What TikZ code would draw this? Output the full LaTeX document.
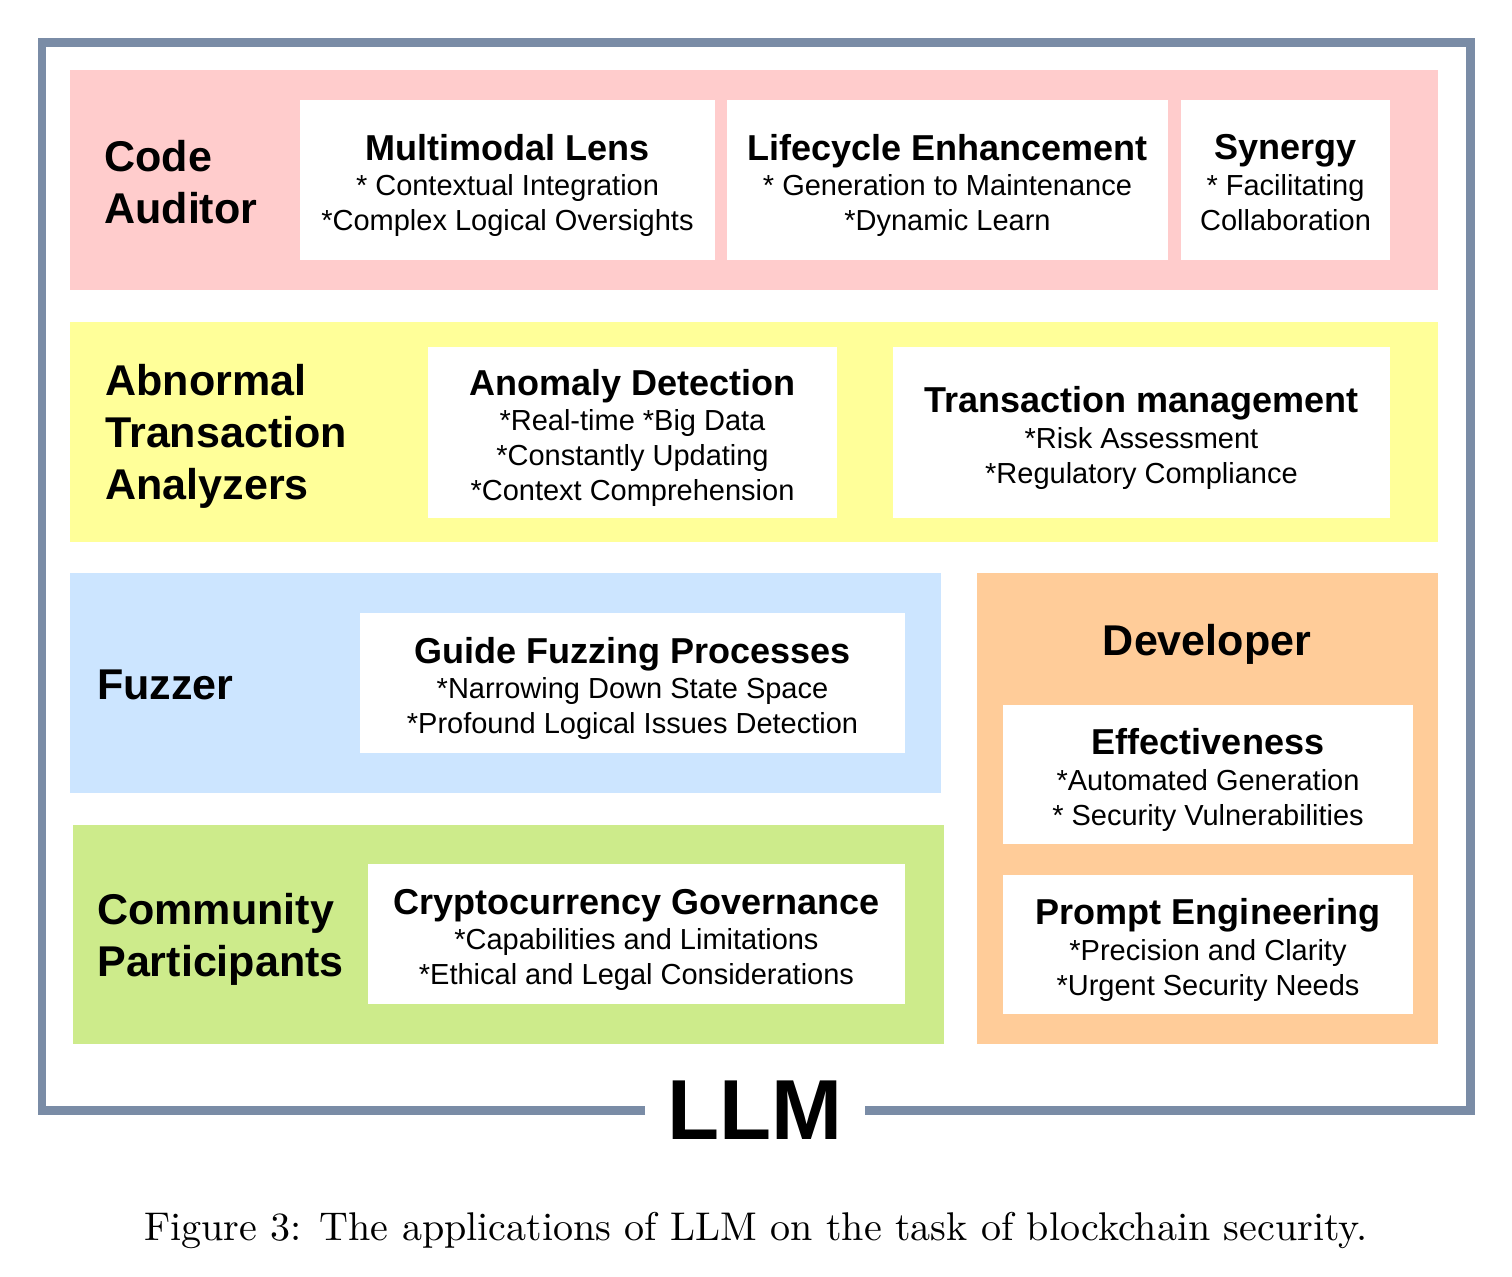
\documentclass[tikz,border=0pt]{standalone}
\usepackage{fontspec}
\usepackage{tikz}
\newfontfamily\helv{Liberation Sans}

\definecolor{framegray}{HTML}{7A8CA6}
\definecolor{pinkband}{HTML}{FFCCCC}
\definecolor{yellowband}{HTML}{FFFF99}
\definecolor{blueband}{HTML}{CCE5FF}
\definecolor{greenband}{HTML}{CDEB8B}
\definecolor{orangeband}{HTML}{FFCC99}
\newcommand{\boxhead}[1]{{\helv\bfseries\fontsize{20.5}{21.6}\selectfont\rule{0pt}{21pt}#1}}

\begin{document}
\begin{tikzpicture}[x=0.02cm, y=-0.02cm,
    band/.style={rectangle, anchor=north west, inner sep=0pt},
    item/.style={rectangle, fill=white, align=center, inner sep=0pt, font=\helv\fontsize{16.5}{19.9}\selectfont},
    role/.style={anchor=west, align=left, inner sep=0pt, font=\helv\bfseries\fontsize{24.5}{29.6}\selectfont}]
    \useasboundingbox (0,0) rectangle (1512,1276);

    % coloured bands
    \node (auditor) [band, fill=pinkband, minimum width=27.36cm, minimum height=4.4cm] at (70,70) {};
    \node (abnormal) [band, fill=yellowband, minimum width=27.36cm, minimum height=4.4cm] at (70,322) {};
    \node (fuzzer) [band, fill=blueband, minimum width=17.42cm, minimum height=4.4cm] at (70,573) {};
    \node (community) [band, fill=greenband, minimum width=17.42cm, minimum height=4.38cm] at (73,825) {};
    \node (developer) [band, fill=orangeband, minimum width=9.22cm, minimum height=9.42cm] at (977,573) {};

    % role labels
    \node (auditorlabel) [role] at (104,182) {Code\\Auditor};
    \node (abnormallabel) [role] at (105,436) {Abnormal\\Transaction\\Analyzers};
    \node (fuzzerlabel) [role] at (97,685) {Fuzzer};
    \node (communitylabel) [role] at (97,939) {Community\\Participants};
    \node (developerlabel) [role, anchor=center] at (1207,644) {Developer};

    % white boxes
    \node (multimodal) [item, minimum width=8.3cm, minimum height=3.2cm] at (507.5,180)
        {\boxhead{Multimodal Lens}\\[0.5pt] * Contextual Integration\\ *Complex Logical Oversights};
    \node (lifecycle) [item, minimum width=8.82cm, minimum height=3.2cm] at (947.5,180)
        {\boxhead{Lifecycle Enhancement}\\[0.5pt] * Generation to Maintenance\\ *Dynamic Learn};
    \node (synergy) [item, minimum width=4.18cm, minimum height=3.2cm] at (1285.5,180)
        {\boxhead{Synergy}\\[0.5pt] * Facilitating\\ Collaboration\rule[-3.5pt]{0pt}{1pt}};
    \node (anomaly) [item, minimum width=8.18cm, minimum height=3.42cm] at (632.5,432.5)
        {\boxhead{Anomaly Detection}\\[0.5pt] *Real-time *Big Data\\ *Constantly Updating\\ *Context Comprehension};
    \node (txmanage) [item, minimum width=9.94cm, minimum height=3.42cm] at (1141.5,432.5)
        {\boxhead{Transaction management}\\[0.5pt] *Risk Assessment\\ *Regulatory Compliance};
    \node (fuzzing) [item, minimum width=10.9cm, minimum height=2.8cm] at (632.5,683)
        {\boxhead{Guide Fuzzing Processes}\\[0.5pt] *Narrowing Down State Space\\ *Profound Logical Issues Detection};
    \node (governance) [item, minimum width=10.74cm, minimum height=2.8cm] at (636.5,934)
        {\boxhead{Cryptocurrency Governance}\\[0.5pt] *Capabilities and Limitations\\ *Ethical and Legal Considerations};
    \node (effective) [item, minimum width=8.2cm, minimum height=2.78cm] at (1208,774.5)
        {\boxhead{Effectiveness}\\[0.5pt] *Automated Generation\\ * Security Vulnerabilities};
    \node (prompt) [item, minimum width=8.2cm, minimum height=2.78cm] at (1208,944.5)
        {\boxhead{Prompt Engineering}\\[0.5pt] *Precision and Clarity\\ *Urgent Security Needs};

    % outer frame with LLM title
    \node (llm) [inner xsep=0.44cm, inner ysep=0pt, font=\helv\bfseries\fontsize{48.5}{50}\selectfont] at (755,1110) {LLM};
    \draw [framegray, line width=0.18cm] (llm.west) -| (42,42) -| (1470,1110) -- (llm.east);

    \node (caption) [anchor=base, scale=2.28, font=\fontsize{10}{12}\selectfont] at (756,1240)
        {Figure 3: The applications of LLM on the task of blockchain security.};
\end{tikzpicture}
\end{document}
